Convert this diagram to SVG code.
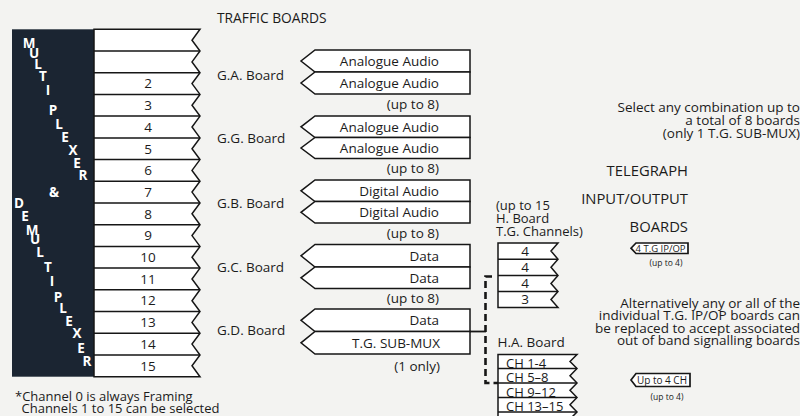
<svg xmlns="http://www.w3.org/2000/svg" width="800" height="416" viewBox="0 0 800 416">
<style>
.t{font-family:"Open Sans","Noto Sans","Liberation Sans",sans-serif;font-size:13.5px;fill:#1b1b1b}
.e{text-anchor:end}
.m{text-anchor:middle}
.w{fill:#fff;font-weight:bold;font-size:13.5px;text-anchor:middle}
.box{fill:#fff;stroke:#161616;stroke-width:1.5;stroke-linejoin:miter}
.ln{fill:none;stroke:#161616;stroke-width:1.5}
.dash{fill:none;stroke:#161616;stroke-width:2.6;stroke-dasharray:7 4}
.s8{font-size:8.5px}
</style>
<rect width="800" height="416" fill="#f3f3f1"/>

<text class="t" x="217" y="22.5" style="font-size:13.8px">TRAFFIC BOARDS</text>

<g id="mux">
<rect x="12" y="29.3" width="82.3" height="347.4" fill="#1b2532"/>
<path class="box" d="M94,29.3 H200 L192,40.2 L200,51 L192,61.9 L200,72.7 L192,83.6 L200,94.4 L192,105.3 L200,116.1 L192,127 L200,137.9 L192,148.7 L200,159.6 L192,170.4 L200,181.3 L192,192.1 L200,203 L192,213.8 L200,224.7 L192,235.6 L200,246.4 L192,257.3 L200,268.1 L192,279 L200,289.8 L192,300.7 L200,311.5 L192,322.4 L200,333.2 L192,344.1 L200,355 L192,365.8 L200,376.7 H94 Z"/>
<path class="ln" d="M94,51 H200 M94,72.7 H200 M94,94.4 H200 M94,116.1 H200 M94,137.9 H200 M94,159.6 H200 M94,181.3 H200 M94,203 H200 M94,224.7 H200 M94,246.4 H200 M94,268.1 H200 M94,289.8 H200 M94,311.5 H200 M94,333.2 H200 M94,355 H200"/>
<g class="t m">
<text x="148" y="88.4">2</text>
<text x="148" y="110.1">3</text>
<text x="148" y="131.8">4</text>
<text x="148" y="153.5">5</text>
<text x="148" y="175.2">6</text>
<text x="148" y="196.9">7</text>
<text x="148" y="218.6">8</text>
<text x="148" y="240.3">9</text>
<text x="148" y="262">10</text>
<text x="148" y="283.7">11</text>
<text x="148" y="305.4">12</text>
<text x="148" y="327.1">13</text>
<text x="148" y="348.8">14</text>
<text x="148" y="370.5">15</text>
</g>
<g class="t w">
<text x="29" y="48">M</text>
<text x="34" y="58">U</text>
<text x="38" y="69">L</text>
<text x="43" y="81">T</text>
<text x="48" y="95">I</text>
<text x="53" y="115">P</text>
<text x="59" y="129">L</text>
<text x="65" y="142">E</text>
<text x="73" y="155">X</text>
<text x="77" y="168">E</text>
<text x="83" y="180">R</text>
<text x="54" y="197">&amp;</text>
<text x="19" y="208">D</text>
<text x="25" y="221">E</text>
<text x="32" y="235">M</text>
<text x="35" y="244">U</text>
<text x="40" y="257">L</text>
<text x="48" y="272">T</text>
<text x="52" y="286">I</text>
<text x="58" y="302">P</text>
<text x="63" y="313">L</text>
<text x="69" y="326">E</text>
<text x="77" y="338">X</text>
<text x="81" y="353">E</text>
<text x="87" y="366">R</text>
</g>
</g>

<g id="ga-board">
<text class="t" x="217" y="79.5">G.A. Board</text>
<path class="box" d="M470,50 H315 L301,61 L315,72 H470 Z"/>
<path class="box" d="M470,72 H315 L301,83 L315,94 H470 Z"/>
<text class="t e" x="439" y="65.8">Analogue Audio</text>
<text class="t e" x="439" y="87.8">Analogue Audio</text>
<text class="t e" x="439" y="108.8">(up to 8)</text>
</g>

<g id="gg-board">
<text class="t" x="217" y="143">G.G. Board</text>
<path class="box" d="M470,116 H315 L301,126.8 L315,137.5 H470 Z"/>
<path class="box" d="M470,137.5 H315 L301,148 L315,158.5 H470 Z"/>
<text class="t e" x="439" y="131.8">Analogue Audio</text>
<text class="t e" x="439" y="152.8">Analogue Audio</text>
<text class="t e" x="439" y="172.8">(up to 8)</text>
</g>

<g id="gb-board">
<text class="t" x="217" y="208">G.B. Board</text>
<path class="box" d="M470,180 H315 L301,190.8 L315,201.5 H470 Z"/>
<path class="box" d="M470,201.5 H315 L301,212.3 L315,223 H470 Z"/>
<text class="t e" x="439" y="195.8">Digital Audio</text>
<text class="t e" x="439" y="216.8">Digital Audio</text>
<text class="t e" x="439" y="237.8">(up to 8)</text>
</g>

<g id="gc-board">
<text class="t" x="217" y="271.5">G.C. Board</text>
<path class="box" d="M470,244.5 H315 L301,255.8 L315,267 H470 Z"/>
<path class="box" d="M470,267 H315 L301,277.8 L315,288.5 H470 Z"/>
<text class="t e" x="439" y="260.8">Data</text>
<text class="t e" x="439" y="282.8">Data</text>
<text class="t e" x="439" y="302.8">(up to 8)</text>
</g>

<g id="gd-board">
<text class="t" x="217" y="335">G.D. Board</text>
<path class="box" d="M470,309 H315 L301,320.3 L315,331.5 H470 Z"/>
<path class="box" d="M470,331.5 H315 L301,342.8 L315,354 H470 Z"/>
<text class="t e" x="439" y="324.8">Data</text>
<text class="t e" x="440" y="347.8">T.G. SUB-MUX</text>
<text class="t e" x="440" y="370.8">(1 only)</text>
</g>

<g id="connectors">
<path class="ln" d="M470,331.5 H486" style="stroke-width:1.8"/>
<path class="dash" d="M492,276.5 H485.5 V383 H498"/>
</g>

<g id="h-board">
<text class="t" x="496" y="209.5" style="font-size:13px">(up to 15</text>
<text class="t" x="496" y="222.5" style="font-size:13px">H. Board</text>
<text class="t" x="496" y="236" style="font-size:13px">T.G. Channels)</text>
<path class="box" d="M498,243 H558 L551,251 L558,259.2 L551,267.3 L558,275.5 L551,283.5 L558,291.5 L551,299.5 L558,307.5 H498 Z"/>
<path class="ln" d="M498,259.2 H558 M498,275.5 H558 M498,291.5 H558"/>
<g class="t m">
<text x="525" y="255.6">4</text>
<text x="525" y="271.8">4</text>
<text x="525" y="288">4</text>
<text x="525" y="304">3</text>
</g>
</g>

<g id="ha-board">
<text class="t" x="497.5" y="347">H.A. Board</text>
<path class="box" d="M498,354.5 H577 L570,361.5 L577,368.5 L570,375.8 L577,383 L570,390.3 L577,397.5 L570,404.8 L577,412 L570,419 L577,426 H498 Z"/>
<path class="ln" d="M498,368.5 H577 M498,383 H577 M498,397.5 H577 M498,412 H577"/>
<g class="t" style="font-size:13px">
<text x="506" y="367.5">CH 1-4</text>
<text x="506" y="382">CH 5–8</text>
<text x="506" y="396.5">CH 9–12</text>
<text x="506" y="411">CH 13–15</text>
</g>
</g>

<g id="select-note" class="t e">
<text x="800" y="111.5">Select any combination up to</text>
<text x="800" y="124.5">a total of 8 boards</text>
<text x="800" y="137.5">(only 1 T.G. SUB-MUX)</text>
</g>

<g id="tg-io" class="t e" style="font-size:14.8px">
<text x="688" y="176">TELEGRAPH</text>
<text x="688" y="203.5">INPUT/OUTPUT</text>
<text x="688" y="232">BOARDS</text>
</g>

<g id="tg-ipop-tab">
<path class="box" d="M688,243 H636 L631,248.2 L636,253.5 H688 Z" style="stroke-width:1.7"/>
<text class="t" x="635.5" y="252" style="font-size:9.4px" textLength="50" lengthAdjust="spacingAndGlyphs">4 T.G IP/OP</text>
<text class="t s8 m" x="666" y="265.5">(up to 4)</text>
</g>

<g id="alt-note" class="t e">
<text x="800" y="308">Alternatively any or all of the</text>
<text x="800" y="320.3">individual T.G. IP/OP boards can</text>
<text x="800" y="332.6">be replaced to accept associated</text>
<text x="800" y="345">out of band signalling boards</text>
</g>

<g id="ch-tab">
<path class="box" d="M690,373.5 H636 L631,380 L636,386.5 H690 Z" style="stroke-width:1.7"/>
<text class="t" x="637" y="384.3" style="font-size:10px" textLength="50" lengthAdjust="spacingAndGlyphs">Up to 4 CH</text>
<text class="t s8 m" x="667" y="400">(up to 4)</text>
</g>

<g id="footnote" class="t" style="font-size:13px">
<text x="15" y="400.5">*Channel 0 is always Framing</text>
<text x="21.5" y="412.5">Channels 1 to 15 can be selected</text>
</g>
</svg>
